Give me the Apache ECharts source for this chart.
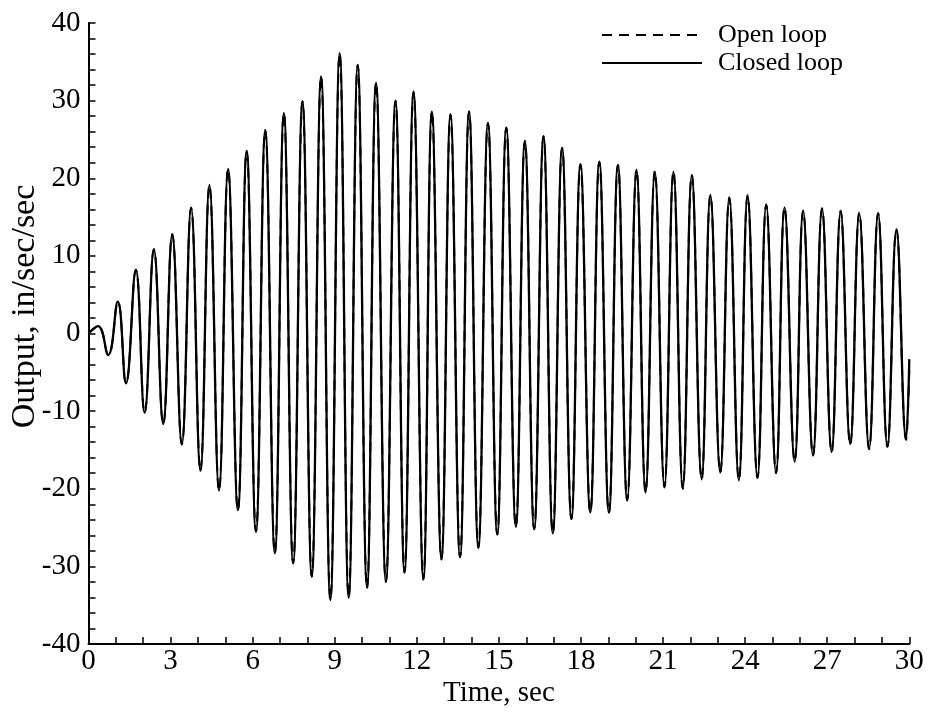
<!DOCTYPE html>
<html>
<head>
<meta charset="utf-8">
<script src="https://cdn.jsdelivr.net/npm/echarts@6/dist/echarts.min.js"></script>
<style>html,body{margin:0;padding:0;background:#fff}#c{width:929px;height:719px}</style>
</head>
<body>
<div id="c"></div>
<script>
// Time samples (sec) at start, extrema and end
const time = [0, 0.35, 0.72, 1.07, 1.37, 1.73, 2.05, 2.39, 2.73, 3.06, 3.41, 3.75, 4.09, 4.42, 4.77, 5.10, 5.46, 5.78, 6.12, 6.46,
  6.81, 7.14, 7.48, 7.82, 8.16, 8.50, 8.84, 9.18, 9.51, 9.84, 10.18, 10.51, 10.87, 11.22, 11.55, 11.88, 12.24, 12.55, 12.90, 13.23,
  13.58, 13.91, 14.25, 14.60, 14.94, 15.27, 15.62, 15.95, 16.29, 16.63, 16.97, 17.31, 17.65, 17.98, 18.34, 18.67, 19.02, 19.35, 19.69, 20.03,
  20.36, 20.70, 21.05, 21.38, 21.72, 22.05, 22.41, 22.73, 23.09, 23.42, 23.77, 24.09, 24.45, 24.77, 25.13, 25.44, 25.81, 26.12, 26.48, 26.81,
  27.16, 27.49, 27.84, 28.17, 28.53, 28.86, 29.20, 29.53, 29.88, 30.0];
// Closed loop output (in/sec/sec)
const closedLoop = [0, 0.95, -2.77, 4.1, -6.42, 8.18, -10.2, 10.85, -11.66, 12.78, -14.27, 16.2, -17.71, 19.13, -20.25, 21.19, -22.74, 23.51, -25.53, 26.18,
  -28.32, 28.39, -29.6, 29.94, -31.33, 33.13, -34.33, 36.13, -34.04, 34.59, -32.75, 32.27, -31.97, 29.95, -30.77, 31.15, -31.67, 28.58, -29.09, 28.24,
  -28.83, 28.58, -27.59, 27.12, -25.87, 26.51, -24.89, 24.76, -25.22, 25.4, -25.74, 23.9, -23.86, 21.8, -23.04, 22.13, -23.08, 21.7, -21.49, 21.1,
  -20.5, 20.85, -19.81, 20.85, -19.99, 20.42, -18.78, 17.84, -17.93, 17.54, -18.91, 17.8, -18.62, 16.64, -17.97, 16.25, -16.51, 15.82, -15.74, 16.12,
  -15.27, 15.74, -14.24, 15.4, -14.84, 15.48, -14.58, 13.42, -13.59, -3.3];
// Open loop output (in/sec/sec)
const openLoop = [0, 0.95, -2.8, 4.1, -6.45, 8.2, -10.2, 10.85, -11.7, 12.8, -14.3, 16.2, -17.7, 19.1, -20.3, 21.2, -22.8, 23.5, -25.5, 26.2,
  -28.3, 28.4, -29.6, 29.9, -31.3, 33.1, -34.3, 36.1, -34.0, 34.6, -32.8, 32.3, -32.0, 30.0, -30.8, 31.1, -31.7, 28.6, -29.1, 28.2,
  -28.8, 28.6, -27.6, 27.1, -25.9, 26.5, -24.9, 24.8, -25.2, 25.4, -25.7, 23.9, -23.9, 21.8, -23.0, 22.1, -23.1, 21.7, -21.5, 21.1,
  -20.5, 20.9, -19.8, 20.9, -20.0, 20.4, -18.8, 17.8, -17.9, 17.5, -18.9, 17.8, -18.6, 16.6, -18.0, 16.3, -16.5, 15.8, -15.7, 16.1,
  -15.3, 15.8, -14.3, 15.6, -14.9, 15.5, -14.6, 13.4, -13.7, -4.7];
const xTicks = [0, 3, 6, 9, 12, 15, 18, 21, 24, 27, 30];
const yTicks = [-40, -30, -20, -10, 0, 10, 20, 30, 40];

const FONT = '"Liberation Serif", "Times New Roman", serif';
const chart = echarts.init(document.getElementById('c'), null, {renderer: 'canvas'});
const pair = (xs, ys) => xs.map((x, i) => [x, ys[i]]);
chart.setOption({
  animation: false,
  backgroundColor: '#fff',
  grid: {left: 88.5, right: 19.7, top: 23, bottom: 75, containLabel: false, outerBoundsMode: 'none'},
  legend: {
    orient: 'vertical', left: 601, top: 22, padding: 0,
    itemWidth: 100, itemHeight: 14, itemGap: 2,
    itemStyle: {color: 'rgba(0,0,0,0)', borderColor: 'rgba(0,0,0,0)', borderWidth: 0},
    textStyle: {fontFamily: FONT, fontSize: 26, lineHeight: 26, color: '#000', padding: [0, 0, 0, 11]},
    data: ['Open loop', 'Closed loop']
  },
  xAxis: {
    type: 'value', min: xTicks[0], max: xTicks[xTicks.length - 1], interval: 3,
    name: 'Time, sec', nameLocation: 'middle', nameGap: 35, nameMoveOverlap: false,
    nameTextStyle: {fontFamily: FONT, fontSize: 29, color: '#000'},
    axisLine: {show: true, onZero: false, lineStyle: {color: '#000', width: 2}},
    axisTick: {show: true, inside: true, length: 7, lineStyle: {color: '#000', width: 1.5}},
    minorTick: {show: true, splitNumber: 3, length: 7, lineStyle: {color: '#000', width: 1.5}},
    axisLabel: {fontFamily: FONT, fontSize: 29, color: '#000', margin: 3},
    splitLine: {show: false}
  },
  yAxis: {
    type: 'value', min: yTicks[0], max: yTicks[yTicks.length - 1], interval: 10,
    name: 'Output, in/sec/sec', nameLocation: 'middle', nameGap: 46, nameMoveOverlap: false,
    nameTextStyle: {fontFamily: FONT, fontSize: 34, color: '#000', padding: [0, 0, 0, 54]},
    axisLine: {show: true, onZero: false, lineStyle: {color: '#000', width: 2}},
    axisTick: {show: true, inside: true, length: 7, lineStyle: {color: '#000', width: 1.5}},
    minorTick: {show: true, splitNumber: 5, length: 7, lineStyle: {color: '#000', width: 1.5}},
    axisLabel: {fontFamily: FONT, fontSize: 29, color: '#000', margin: 8},
    splitLine: {show: false}
  },
  series: [
    {name: 'Open loop', type: 'line', data: pair(time, openLoop), smooth: 0.45, symbol: 'none',
      lineStyle: {color: '#000', width: 2, type: [10, 7]}, itemStyle: {color: '#000'}},
    {name: 'Closed loop', type: 'line', data: pair(time, closedLoop), smooth: 0.45, symbol: 'none',
      lineStyle: {color: '#000', width: 2.3, type: 'solid'}, itemStyle: {color: '#000'}}
  ]
});
</script>
</body>
</html>
